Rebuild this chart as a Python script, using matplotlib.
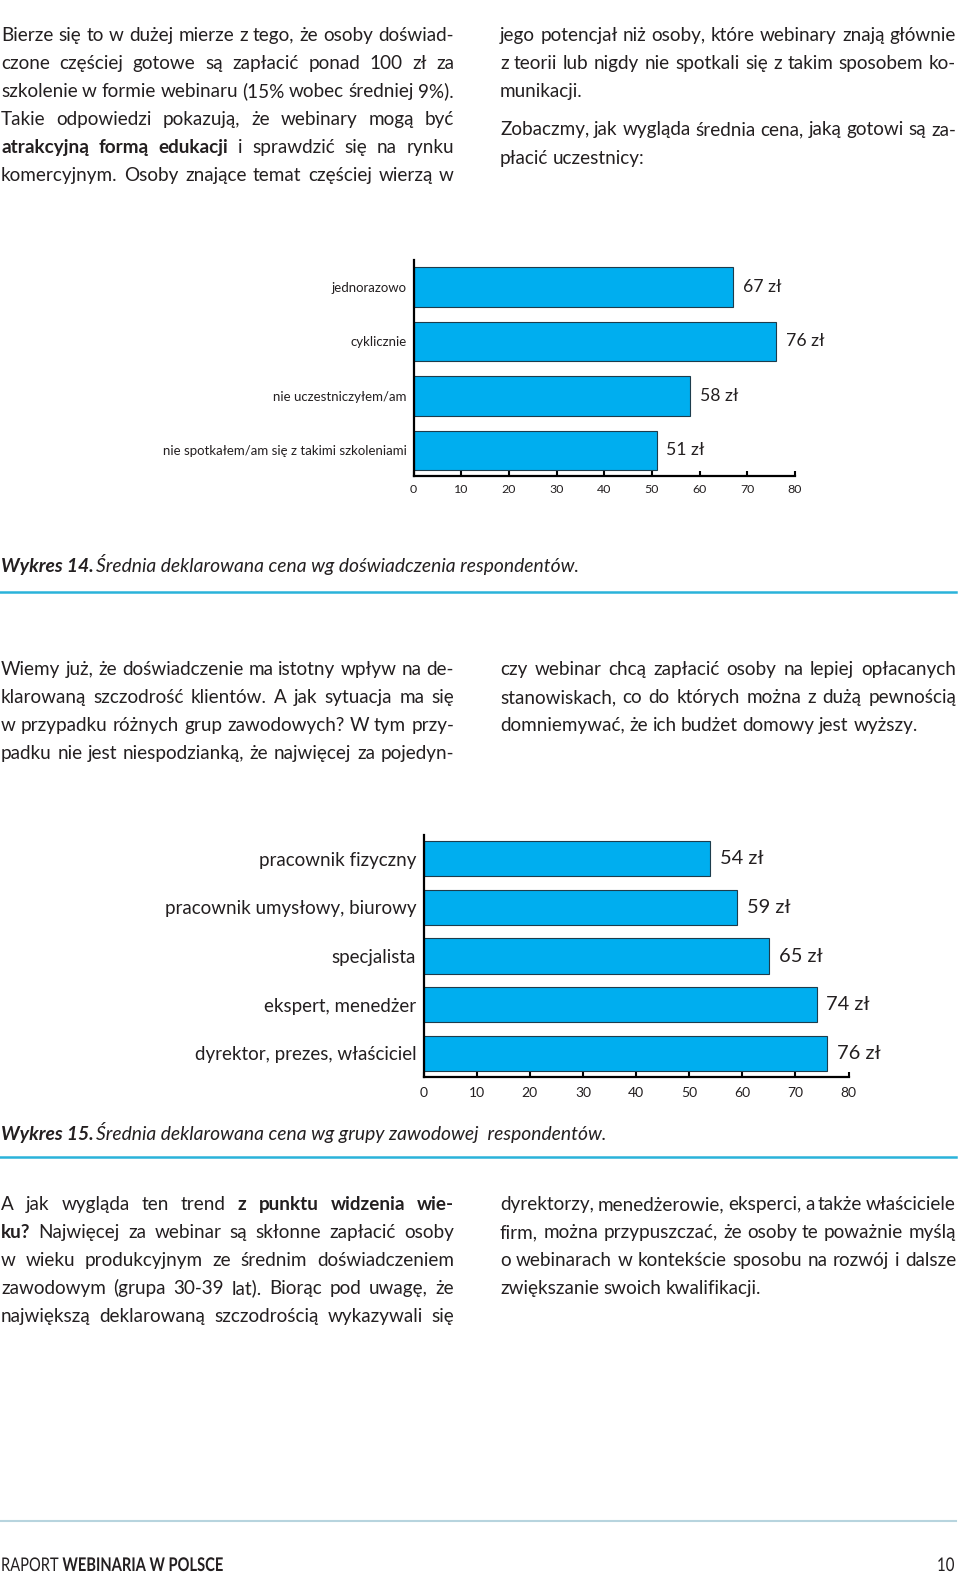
import matplotlib
matplotlib.use('Agg')
import matplotlib.pyplot as plt
from matplotlib.textpath import TextPath
from matplotlib.patches import PathPatch
from matplotlib.font_manager import FontProperties
from matplotlib.transforms import Affine2D

plt.rcParams['font.family'] = ['Lato', 'DejaVu Sans']

# chart data
exp_labels = ['jednorazowo', 'cyklicznie', 'nie uczestniczyłem/am',
              'nie spotkałem/am się z takimi szkoleniami']
exp_values = [67, 76, 58, 51]
job_labels = ['pracownik fizyczny', 'pracownik umysłowy, biurowy', 'specjalista',
              'ekspert, menedżer', 'dyrektor, prezes, właściciel']
job_values = [54, 59, 65, 74, 76]
x_ticks = [0, 10, 20, 30, 40, 50, 60, 70, 80]

# page text (** marks bold)
top_left = [
    "Bierze się to w dużej mierze z tego, że osoby doświad-",
    "czone częściej gotowe są zapłacić ponad 100 zł za",
    "szkolenie w formie webinaru (15% wobec średniej 9%).",
    "Takie odpowiedzi pokazują, że webinary mogą być",
    "**atrakcyjną formą edukacji** i sprawdzić się na rynku",
    "komercyjnym. Osoby znające temat częściej wierzą w",
]
top_right_1 = [
    "jego potencjał niż osoby, które webinary znają głównie",
    "z teorii lub nigdy nie spotkali się z takim sposobem ko-",
    "munikacji.",
]
top_right_2 = [
    "Zobaczmy, jak wygląda średnia cena, jaką gotowi są za-",
    "płacić uczestnicy:",
]
mid_left = [
    "Wiemy już, że doświadczenie ma istotny wpływ na de-",
    "klarowaną szczodrość klientów. A jak sytuacja ma się",
    "w przypadku różnych grup zawodowych? W tym przy-",
    "padku nie jest niespodzianką, że najwięcej za pojedyn-",
]
mid_right = [
    "czy webinar chcą zapłacić osoby na lepiej opłacanych",
    "stanowiskach, co do których można z dużą pewnością",
    "domniemywać, że ich budżet domowy jest wyższy.",
]
low_left = [
    "A jak wygląda ten trend **z punktu widzenia wie-**",
    "**ku?** Najwięcej za webinar są skłonne zapłacić osoby",
    "w wieku produkcyjnym ze średnim doświadczeniem",
    "zawodowym (grupa 30-39 lat). Biorąc pod uwagę, że",
    "największą deklarowaną szczodrością wykazywali się",
]
low_right = [
    "dyrektorzy, menedżerowie, eksperci, a także właściciele",
    "firm, można przypuszczać, że osoby te poważnie myślą",
    "o webinarach w kontekście sposobu na rozwój i dalsze",
    "zwiększanie swoich kwalifikacji.",
]

INK = '#231f20'
BAR = '#00aeef'
EDGE = '#1d3c4c'
RULE = '#2ab3da'
FOOT_RULE = '#b7d4de'

W, H = 960, 1573
fig = plt.figure(figsize=(W / 100, H / 100), dpi=100)
page = fig.add_axes([0, 0, 1, 1])
page.set_xlim(0, W)
page.set_ylim(H, 0)
page.axis('off')
renderer = fig.canvas.get_renderer()

BODY = 13.6


def width_of(t):
    return t.get_window_extent(renderer).width


def parse(line):
    words = []
    for i, seg in enumerate(line.split('**')):
        for w in seg.split():
            words.append((w, i % 2 == 1))
    return words


def text_line(line, x0, x1, y, justify, size=BODY):
    words = parse(line)
    while True:
        arts = [page.text(0, y, w, fontsize=size, color=INK, va='baseline',
                          fontweight='bold' if b else 'normal') for w, b in words]
        ws = [width_of(a) for a in arts]
        space = size * 100 / 72 * 0.24
        if sum(ws) + space * 0.75 * (len(ws) - 1) <= x1 - x0 or size < 10:
            break
        for a in arts:
            a.remove()
        size -= 0.2
    gap = space
    if justify and len(arts) > 1:
        gap = (x1 - x0 - sum(ws)) / (len(arts) - 1)
    x = x0
    for a, w in zip(arts, ws):
        a.set_x(x)
        x += w + gap


def paragraph(lines, x0, x1, y0, justify_last=False, step=28.05):
    for i, line in enumerate(lines):
        last = i == len(lines) - 1
        text_line(line, x0, x1, y0 + i * step, justify_last or not last)


def runs_line(runs, x, y, size, target_w, style='normal'):
    def draw(sz):
        arts, cx = [], x
        for txt, wt in runs:
            a = page.text(cx, y, txt, fontsize=sz, fontweight=wt, fontstyle=style,
                          color=INK, va='baseline')
            cx += width_of(a)
            arts.append(a)
        return arts, cx - x
    arts, w = draw(size)
    for a in arts:
        a.remove()
    draw(size * target_w / w)


def narrow_text(runs, x, y, cap_px, squeeze, align='left', gap=0.0):
    # condensed look: text outlines squeezed horizontally
    paths = [TextPath((0, 0), txt, size=100, prop=FontProperties(family='Lato', weight=wt))
             for txt, wt in runs]
    ref = TextPath((0, 0), 'H', size=100, prop=FontProperties(family='Lato'))
    s = cap_px / ref.get_extents().height
    total = sum(p.get_extents().x1 for p in paths) * s * squeeze + gap * (len(paths) - 1)
    cx = x - total if align == 'right' else x
    for p in paths:
        tr = Affine2D().scale(s * squeeze, -s).translate(cx, y) + page.transData
        page.add_patch(PathPatch(p, transform=tr, facecolor=INK, lw=0))
        cx += p.get_extents().x1 * s * squeeze + gap


L0, L1 = 1, 454
R0, R1 = 500, 956

paragraph(top_left, L0, L1, 41, justify_last=True)
paragraph(top_right_1, R0, R1, 41)
paragraph(top_right_2, R0, R1, 135.5)
paragraph(mid_left, L0, L1, 675, justify_last=True)
paragraph(mid_right, R0, R1, 675)
paragraph(low_left, L0, L1, 1210, justify_last=True)
paragraph(low_right, R0, R1, 1210)

runs_line([('Wykres 14.', 'bold'), ('\u2009', 'normal'),
           ('Średnia deklarowana cena wg doświadczenia respondentów.', 'normal')],
          1, 572, 14, 581, style='italic')
page.plot([0, 956], [592, 592], color=RULE, lw=1.8)
runs_line([('Wykres 15.', 'bold'), ('\u2009', 'normal'),
           ('Średnia deklarowana cena wg grupy zawodowej  respondentów.', 'normal')],
          1, 1140, 14, 607, style='italic')
page.plot([0, 956], [1157, 1157], color=RULE, lw=1.8)

page.plot([0, 956], [1521, 1521], color=FOOT_RULE, lw=1.5)
narrow_text([('RAPORT', 'normal'), ('WEBINARIA W POLSCE', 'bold')], 1, 1571, 13.5, 0.78, gap=4)
narrow_text([('10', 'normal')], 954, 1571, 13.5, 0.8, align='right')


def bar_chart(left, top, right, bottom, labels, values, top_m, bot_m,
              lab_size, val_size, tick_size, lab_pad, tick_pad):
    ax = fig.add_axes([left / W, 1 - bottom / H, (right - left) / W, (bottom - top) / H])
    pos = list(range(len(values)))
    ax.barh(pos, values, height=0.724, color=BAR, edgecolor=EDGE, linewidth=0.8, zorder=2)
    ax.set_xlim(0, 80)
    ax.set_ylim(len(values) - 1 + bot_m, -top_m)
    ax.set_xticks(x_ticks)
    ax.set_yticks(pos, labels)
    ax.tick_params(axis='y', length=0, pad=lab_pad, labelsize=lab_size, labelcolor=INK)
    ax.tick_params(axis='x', direction='in', length=3.5, width=1.5, pad=tick_pad,
                   labelsize=tick_size, labelcolor=INK)
    for s in ['top', 'right']:
        ax.spines[s].set_visible(False)
    for s in ['left', 'bottom']:
        ax.spines[s].set_linewidth(1.6)
        ax.spines[s].set_color('black')
        ax.spines[s].set_zorder(3)
    for i, v in zip(pos, values):
        ax.annotate(f'{v} zł', (v, i), xytext=(7, 0), textcoords='offset points',
                    va='center', ha='left', fontsize=val_size, color=INK)
    ax.patch.set_alpha(0)
    return ax


bar_chart(413.5, 260, 795, 475.7, exp_labels, exp_values, 0.496, 0.467,
          9.5, 12.7, 8.9, 4.9, 6.2)
bar_chart(423.5, 835, 848.5, 1077, job_labels, job_values, 0.49, 0.488,
          13.5, 14.4, 10, 5.3, 7.0)

fig.savefig('out.png', dpi=100)
